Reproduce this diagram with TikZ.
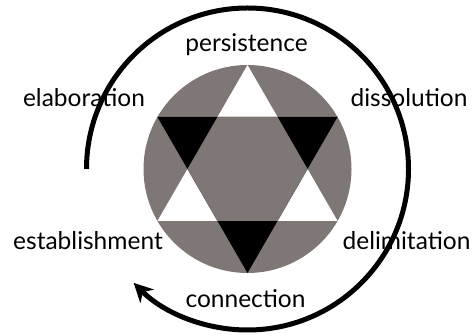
\documentclass[tikz,border=0pt]{standalone}
\usepackage{fontspec}
\setmainfont{Lato}
\usetikzlibrary{arrows.meta}
\definecolor{disc}{RGB}{127,119,117}
\tikzset{
  lbl/.style={font=\fontsize{24.5}{26}\selectfont, anchor=base, inner sep=0pt, text=black},
  cycle arc/.style={line width=5pt, -{Stealth[length=19pt,width=19pt,inset=6pt]}}
}
\begin{document}
\begin{tikzpicture}[x=1pt,y=1pt]
\useasboundingbox (0,0) rectangle (473,336);
\coordinate (c) at (247.5,167);
% cycle arc
\draw[cycle arc] (c) ++(180:161) arc[start angle=180,end angle=-135,radius=161];
% disc with hexagram
\begin{scope}[shift={(c)}]
  \fill[disc] (0,0) circle (104);
  \fill[white] (90:104) -- (210:104) -- (330:104) -- cycle;
  \fill[black] (270:104) -- (30:104) -- (150:104) -- cycle;
  \fill[disc] (0:60.04) -- (60:60.04) -- (120:60.04) -- (180:60.04) -- (240:60.04) -- (300:60.04) -- cycle;
\end{scope}
% labels
\node[lbl] (persistence) at (246.5,284.5) {persistence};
\node[lbl] (elaboration) at (84,229.5) {elaboration};
\node[lbl] (dissolution) at (409,229.5) {dissolution};
\node[lbl] (establishment) at (88,86) {establishment};
\node[lbl] (delimitation) at (406.5,86) {delimitation};
\node[lbl] (connection) at (245.5,28) {connection};
\end{tikzpicture}
\end{document}
